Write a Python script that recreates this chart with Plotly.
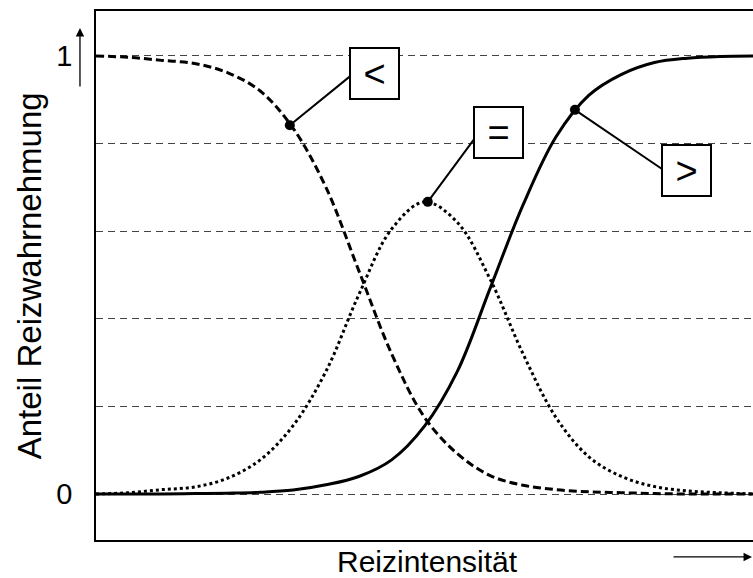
import plotly.graph_objects as go

# Stimulus intensity (arbitrary units) and response proportions
intensity = [0, 5, 10, 15, 20, 25, 30, 35, 40, 45, 50, 55, 60, 65, 70, 75, 80, 85, 90, 95, 100]
p_less = [1.0, 0.997, 0.99, 0.983, 0.962, 0.92, 0.835, 0.70, 0.51, 0.32, 0.175, 0.092,
          0.042, 0.02, 0.01, 0.005, 0.003, 0.001, 0.0, 0.0, 0.0]
p_equal = [0.0, 0.003, 0.01, 0.016, 0.036, 0.078, 0.156, 0.28, 0.455, 0.605, 0.667, 0.62,
           0.49, 0.32, 0.175, 0.085, 0.04, 0.017, 0.007, 0.003, 0.0]
p_greater = [0.0, 0.0, 0.0, 0.001, 0.002, 0.004, 0.009, 0.021, 0.04, 0.078, 0.155, 0.28,
             0.47, 0.66, 0.815, 0.91, 0.958, 0.985, 0.995, 0.999, 1.0]

# Highlighted points and their labels
label_text = ["<", "=", ">"]
point_x = [29.5, 50.5, 72.9]
point_y = [0.842, 0.667, 0.877]
box_x = [42.4, 61.3, 89.9]
box_y = [0.960, 0.826, 0.739]
leader_end_x = [38.7, 57.7, 86.15]
leader_end_y = [0.954, 0.813, 0.742]

y_ticks = [0, 0.2, 0.4, 0.6, 0.8, 1.0]
y_ticktext = ["0", "", "", "", "", "1"]

FONT = "Liberation Sans, Arial, sans-serif"

fig = go.Figure()
fig.add_trace(go.Scatter(x=intensity, y=p_less, mode="lines", line_shape="spline",
                         line=dict(color="black", width=3, dash="8px,4px"), showlegend=False))
fig.add_trace(go.Scatter(x=intensity, y=p_equal, mode="lines", line_shape="spline",
                         line=dict(color="black", width=3, dash="3px,3px"), showlegend=False))
fig.add_trace(go.Scatter(x=intensity, y=p_greater, mode="lines", line_shape="spline",
                         line=dict(color="black", width=3), showlegend=False))

# leader lines from each highlighted point to its label box
for px_, py_, ex, ey in zip(point_x, point_y, leader_end_x, leader_end_y):
    fig.add_shape(type="line", x0=px_, y0=py_, x1=ex, y1=ey, xref="x", yref="y",
                  line=dict(color="black", width=2))

fig.add_trace(go.Scatter(x=point_x, y=point_y, mode="markers",
                         marker=dict(color="black", size=10), showlegend=False))

for t, bx, by in zip(label_text, box_x, box_y):
    fig.add_annotation(x=bx, y=by, xref="x", yref="y", text=t, showarrow=False,
                       font=dict(family=FONT, size=38, color="black"),
                       bordercolor="black", borderwidth=2, bgcolor="white",
                       width=45, height=47, xanchor="center", yanchor="middle")

# axis titles
fig.add_annotation(x=-0.132, y=0.5, xref="paper", yref="paper", text="Anteil Reizwahrnehmung",
                   textangle=-90, showarrow=False, font=dict(family=FONT, size=33, color="black"))
fig.add_annotation(x=0.505, y=-0.006, xref="paper", yref="paper", text="Reizintensität",
                   showarrow=False, yanchor="top", font=dict(family=FONT, size=30, color="black"))

# direction arrows
fig.add_annotation(x=-0.0244, y=0.968, xref="paper", yref="paper", text="", showarrow=True,
                   ax=0, ay=60, arrowhead=2, arrowsize=1.3, arrowwidth=1.3, arrowcolor="black")
fig.add_annotation(x=0.9985, y=-0.032, xref="paper", yref="paper", text="", showarrow=True,
                   ax=-80, ay=0, arrowhead=2, arrowsize=1.3, arrowwidth=1.3, arrowcolor="black")

fig.update_layout(
    width=753, height=578,
    margin=dict(l=96, r=0, t=11, b=38),
    paper_bgcolor="white", plot_bgcolor="white",
    font=dict(family=FONT, size=28, color="black"),
)
fig.update_xaxes(range=[0, 100], showgrid=False, zeroline=False, showticklabels=False,
                 ticks="", showline=True, linecolor="black", linewidth=1.5, mirror=True)
fig.update_yaxes(range=[-0.105, 1.1027], tickvals=y_ticks, ticktext=y_ticktext,
                 showgrid=True, gridcolor="#444", gridwidth=1, griddash="7px,5px",
                 zeroline=False, ticks="outside", ticklen=16, tickcolor="rgba(0,0,0,0)",
                 showline=True, linecolor="black", linewidth=1.5, mirror=False,
                 tickfont=dict(family=FONT, size=29, color="black"))

fig.write_html("out.html")
